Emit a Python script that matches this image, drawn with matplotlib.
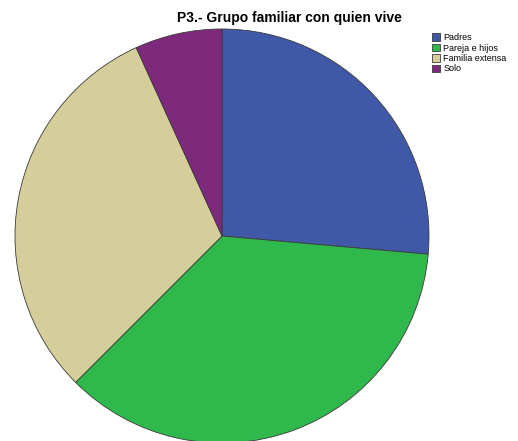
import matplotlib.pyplot as plt

# Grupo familiar con quien vive (porcentajes aproximados)
categorias = ['Padres', 'Pareja e hijos', 'Familia extensa', 'Solo']
valores = [26.4, 36.1, 30.7, 6.8]
colores = ['#3f58a8', '#2fb84b', '#d5cd9a', '#7e2a7c']

plt.rcParams['font.family'] = ['Liberation Sans', 'DejaVu Sans']

fig = plt.figure(figsize=(5.18, 4.41), dpi=100)
ax = fig.add_axes([15 / 518, (441 - 443) / 441, 414 / 518, 414 / 441])
wedges, _ = ax.pie(valores, colors=colores, startangle=90, counterclock=False,
                   wedgeprops=dict(edgecolor='#3a3a3a', linewidth=0.6))
ax.set_xlim(-1.0, 1.0)
ax.set_ylim(-1.0, 1.0)
ax.set_aspect('equal')

fig.text(289 / 518, 1 - 18 / 441, 'P3.- Grupo familiar con quien vive',
         ha='center', va='center', fontsize=10, fontweight='bold')

fig.legend(wedges, categorias, loc='upper left',
           bbox_to_anchor=(426 / 518, 1 - 27 / 441), frameon=False,
           fontsize=6.5, handlelength=0.9, handleheight=0.9,
           handletextpad=0.3, labelspacing=0.15, borderpad=0.2)

fig.savefig('out.png', dpi=100)
